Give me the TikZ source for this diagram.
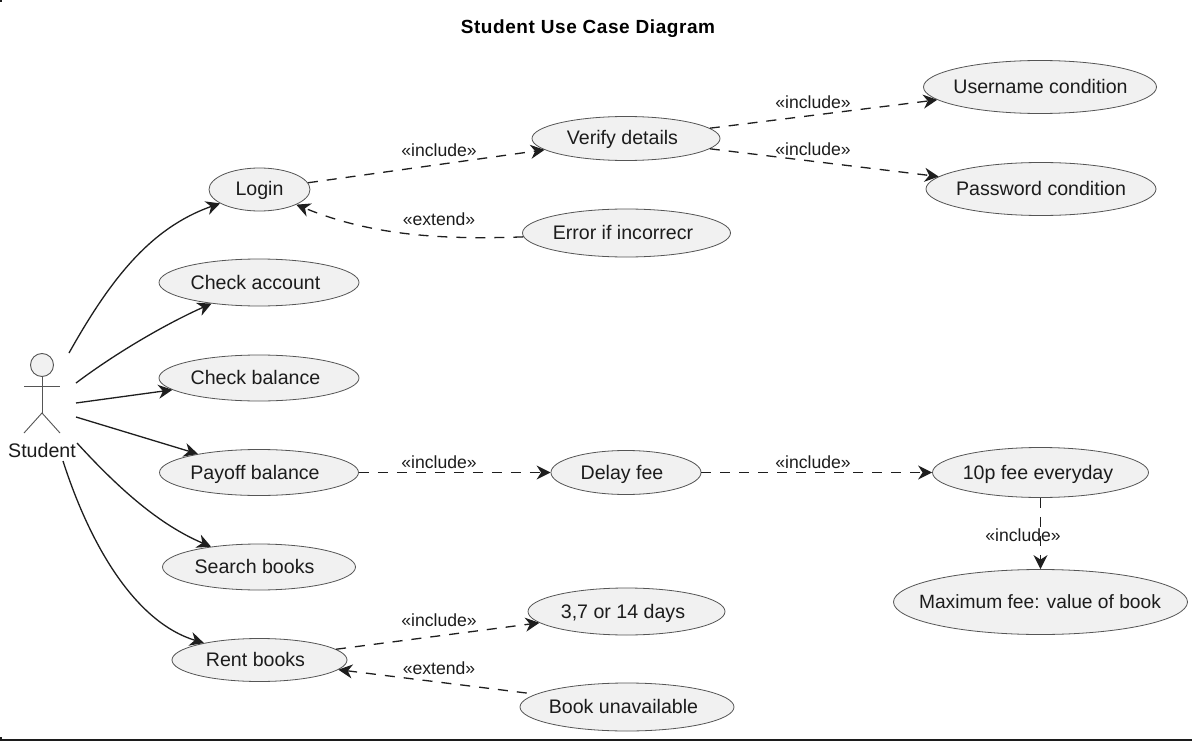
\documentclass[tikz,border=0pt]{standalone}
\usepackage{fontspec}
\setmainfont{Liberation Sans}
\usepackage{xcolor}
\usetikzlibrary{arrows.meta,shapes.geometric}
\definecolor{ink}{HTML}{1C1C1C}
\definecolor{edge}{HTML}{1E1E1E}
\definecolor{body}{HTML}{F1F1F1}
\definecolor{stroke}{HTML}{555555}
% first argument moves the text off the ellipse centre, twice the shift wanted
\newcommand{\uctext}[2]{\makebox[0pt]{\hspace*{#1pt}#2}}
\tikzset{
  uc/.style={ellipse, draw=stroke, fill=body, line width=0.8pt, inner sep=0pt, text=ink, text height=17pt, text depth=4pt, font=\fontsize{19.6}{21}\selectfont},
  lbl/.style={text=ink, font=\fontsize{17.6}{19}\selectfont, inner sep=0pt},
  assoc/.style={draw=edge, line width=1.3pt, -{Stealth[length=14pt,width=14pt,inset=4.5pt]}},
  dep/.style={assoc, dash pattern=on 10pt off 9pt},
  stick/.style={draw=stroke, line width=0.9pt}
}

\begin{document}
\begin{tikzpicture}[x=1pt,y=-1pt]
\useasboundingbox (0,0) rectangle (1192,741);
% page edge
\fill[white] (0,0) rectangle (1192,741);
\fill[ink] (0,739) rectangle (1192,741);
\fill[ink] (0,737) rectangle (1.5,739);
\fill[ink] (0,0) rectangle (2,2);

\node[font=\bfseries\fontsize{19}{21}\selectfont, text=black] (title) at (588,29) {\addfontfeature{LetterSpace=3}Student Use Case Diagram};

% actor
\filldraw[stick, fill=body] (42,365) circle (11.5);
\draw[stick] (42,376.5)--(42,413);
\draw[stick] (24,386)--(60,386);
\draw[stick] (24,433)--(42,413)--(60,433);
\node[text=ink, font=\fontsize{19.6}{21}\selectfont, inner sep=0pt] (student) at (42,450) {Student};

% start points round the actor
\coordinate (s1) at (69,353);
\coordinate (s2) at (76,383);
\coordinate (s3) at (76,403);
\coordinate (s4) at (76,417);
\coordinate (s5) at (77,443);
\coordinate (s6) at (63,461);

% use cases
\node[uc, minimum width=101pt, minimum height=43pt] (login) at (259.5,189.5) {\uctext{0}{Login}};
\node[uc, minimum width=200pt, minimum height=47pt] (account) at (259,282.5) {\uctext{-7}{Check account}};
\node[uc, minimum width=200pt, minimum height=46pt] (balance) at (259,378) {\uctext{-7}{Check balance}};
\node[uc, minimum width=199pt, minimum height=46pt] (payoff) at (259,472.5) {\uctext{-8}{Payoff balance}};
\node[uc, minimum width=193pt, minimum height=46pt] (search) at (259,567) {\uctext{-9}{Search books}};
\node[uc, minimum width=175pt, minimum height=43pt] (rent) at (259.5,660) {\uctext{-8}{Rent books}};
\node[uc, minimum width=188pt, minimum height=44pt] (verify) at (626,138.5) {\uctext{-7}{Verify details}};
\node[uc, minimum width=208pt, minimum height=48pt] (error) at (626.5,233) {\uctext{-7}{Error if incorrecr}};
\node[uc, minimum width=150pt, minimum height=44pt] (delay) at (626,472.5) {\uctext{-8}{Delay fee}};
\node[uc, minimum width=197pt, minimum height=47pt] (days) at (626.5,611.5) {\uctext{-7}{3,7 or 14 days}};
\node[uc, minimum width=214pt, minimum height=48pt] (unavail) at (627,707) {\uctext{-7}{Book unavailable}};
\node[uc, minimum width=233pt, minimum height=53pt] (user) at (1040,87) {\uctext{1}{Username condition}};
\node[uc, minimum width=230pt, minimum height=53pt] (pass) at (1041,189) {\uctext{0}{Password condition}};
\node[uc, minimum width=216pt, minimum height=50pt] (tenp) at (1040.5,472.5) {\uctext{-5}{10p fee everyday}};
\node[uc, minimum width=294pt, minimum height=65pt, font=\fontsize{19.2}{21}\selectfont] (maxfee) at (1040.5,602) {\uctext{-1}{Maximum fee: value of book}};

% actor to use cases
\draw[assoc] (s1) .. controls (110,280) and (150,228) .. (login);
\draw[assoc] (s2) .. controls (120,350) and (170,322) .. (account);
\draw[assoc] (s3) -- (balance);
\draw[assoc] (s4) -- (payoff);
\draw[assoc] (s5) .. controls (120,490) and (160,525) .. (search);
\draw[assoc] (s6) .. controls (90,545) and (135,622) .. (rent);

% include and extend
\draw[dep] (login) -- (verify);
\draw[dep] (error) .. controls (440,240) and (370,235) .. (login);
\draw[dep] (verify.7) -- (user);
\draw[dep] (verify.-7) -- (pass);
\draw[dep] (payoff) -- (delay);
\draw[dep] (delay) -- (tenp);
\draw[dep] (tenp) -- (maxfee);
\draw[dep] (rent.8) -- (days);
\draw[dep, dash phase=10pt] (unavail.172) -- (rent.-7);

% labels
\node[lbl] (l1) at (439,150) {«include»};
\node[lbl] (l2) at (439,219) {«extend»};
\node[lbl] (l3) at (813,102) {«include»};
\node[lbl] (l4) at (813,149) {«include»};
\node[lbl] (l5) at (439,462) {«include»};
\node[lbl] (l6) at (813,462) {«include»};
\node[lbl] (l7) at (1023,535) {«include»};
\node[lbl] (l8) at (439,620) {«include»};
\node[lbl] (l9) at (439,668) {«extend»};
\end{tikzpicture}
\end{document}
